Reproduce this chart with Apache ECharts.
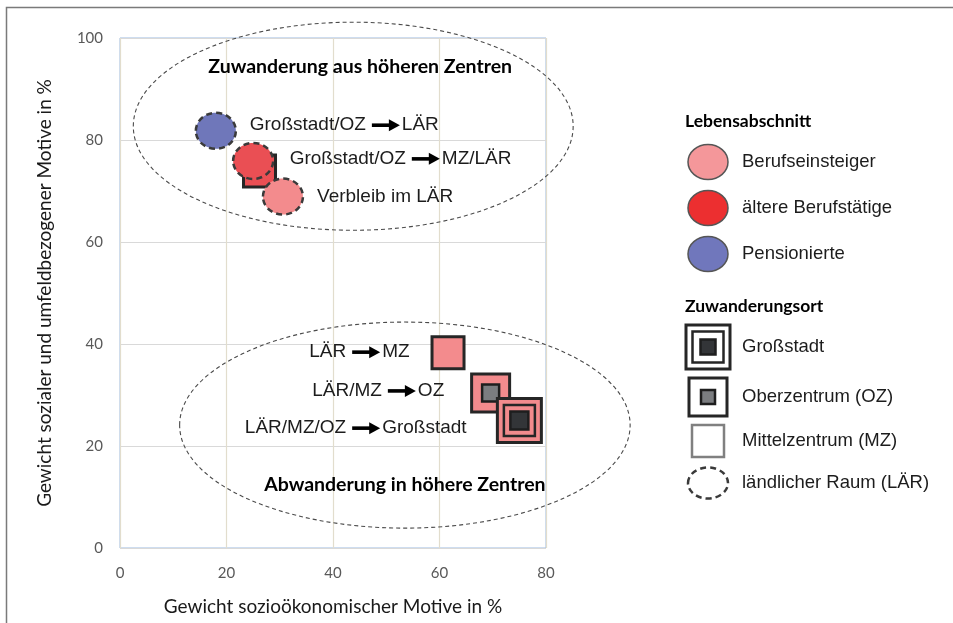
<!DOCTYPE html>
<html>
<head>
<meta charset="utf-8">
<script src="https://cdn.jsdelivr.net/npm/echarts@6/dist/echarts.min.js"></script>
<style>
  html, body { margin: 0; padding: 0; background: #fff; }
  #chart { width: 953px; height: 623px; }
</style>
</head>
<body>
<div id="chart"></div>
<script>
// ---- Data -----------------------------------------------------------------
// Life stages (colour key) and destination types (symbol key)
const lifeStages = ['Berufseinsteiger', 'ältere Berufstätige', 'Pensionierte'];
const destinations = ['Großstadt', 'Oberzentrum (OZ)', 'Mittelzentrum (MZ)', 'ländlicher Raum (LÄR)'];

// One entry per group: weight of socio-economic motives (x) and of social /
// environment-related motives (y), both in percent
const socioEconomic = [26.2, 25.0, 18.0, 30.6, 61.6, 69.6, 75.0];
const socialLocal   = [73.9, 75.9, 81.8, 68.9, 38.3, 30.4, 25.0];
const pointStage       = [1, 1, 2, 0, 0, 0, 0];   // index into lifeStages
const pointDestination = [2, 3, 3, 3, 2, 1, 0];   // index into destinations

// Axis ticks
const xTicks = [0, 20, 40, 60, 80];
const yTicks = [0, 20, 40, 60, 80, 100];

// Migration-flow annotations (text before / after the arrow)
const noteBefore = ['Großstadt/OZ', 'Großstadt/OZ', 'Verbleib im LÄR', 'LÄR', 'LÄR/MZ', 'LÄR/MZ/OZ'];
const noteAfter  = ['LÄR', 'MZ/LÄR', '', 'MZ', 'OZ', 'Großstadt'];
const clusterTitles = ['Zuwanderung aus höheren Zentren', 'Abwanderung in höhere Zentren'];

// ---- Layout (data space) ---------------------------------------------------
const noteAnchors = [[47.3, 82.9], [54.8, 76.3], [37.0, 68.8], [43.6, 38.4], [50.3, 30.8], [43.6, 23.5]];
const clusterShapes = [[43.8, 82.7, 41.3, 20.4], [53.5, 24.1, 42.3, 20.2]]; // cx, cy, rx, ry
const clusterTitleAnchors = [[45.1, 94.3], [53.5, 12.4]];

// ---- Styles -----------------------------------------------------------------
const stageColors  = ['#F38B8D', '#EA4F54', '#6F77BA'];
const legendColors = ['#F4979A', '#EC2F30', '#7077BC'];
const labelFont = '"Liberation Sans", Arial, sans-serif';
const axisFont  = 'Lato, "Open Sans", sans-serif';
const ink = '#1c1c1c';

// Symbol for a destination type, centred on (cx, cy)
function symbolShapes(dest, cx, cy, fill, legend) {
  const sq = (s, f, stroke, lw) => ({
    type: 'rect',
    shape: { x: cx - s / 2, y: cy - s / 2, width: s, height: s },
    style: { fill: f, stroke: stroke, lineWidth: lw }
  });
  if (dest === 3) {
    return [{
      type: 'ellipse',
      shape: { cx: cx, cy: cy, rx: 20, ry: legend ? 15.5 : 18 },
      style: { fill: fill, stroke: '#3a3a3a', lineWidth: 2.5, lineDash: [6, 4] }
    }];
  }
  if (dest === 2) return [sq(32, fill, legend ? '#808080' : '#262626', legend ? 2.5 : 3)];
  if (dest === 1) return [sq(38, fill, '#262626', 3), sq(legend ? 14 : 17, '#7b7d80', '#1e1e1e', 2.5)];
  return [sq(44, fill, '#262626', 3), sq(31, 'none', '#262626', 2.5), sq(legend ? 15 : 18, '#333538', '#1e1e1e', 2.5)];
}

function arrowShapes(x, y) {
  return [
    { type: 'rect', shape: { x: x, y: y - 1.8, width: 19, height: 3.6 }, style: { fill: '#000' } },
    { type: 'polygon', shape: { points: [[x + 17, y - 6], [x + 28, y], [x + 17, y + 6]] }, style: { fill: '#000' } }
  ];
}

function noteText(x, y, text, align) {
  return {
    type: 'text', x: x, y: y,
    style: { text: text, fill: ink, font: '19px ' + labelFont, align: align, verticalAlign: 'middle' }
  };
}

// ---- Legend (drawn as graphic elements) -----------------------------------
const legendEls = [];
const legendTitle = (t, y) => legendEls.push({
  type: 'text', left: 685, top: y - 11,
  style: { text: t, fill: '#000', font: 'bold 17.5px ' + axisFont }
});
const legendLabel = (t, y) => legendEls.push({
  type: 'text', x: 742, y: y,
  style: { text: t, fill: ink, font: '18.5px ' + labelFont, verticalAlign: 'middle' }
});
legendTitle('Lebensabschnitt', 123);
[162, 208, 254].forEach((y, i) => {
  legendEls.push({
    type: 'ellipse', shape: { cx: 708, cy: y, rx: 20, ry: 17.5 },
    style: { fill: legendColors[i], stroke: '#555', lineWidth: 1.5 }
  });
  legendLabel(lifeStages[i], y);
});
legendTitle('Zuwanderungsort', 308);
[347, 397, 441, 483].forEach((y, i) => {
  legendEls.push({ type: 'group', children: symbolShapes(i, 708, y, '#fff', true) });
  legendLabel(destinations[i], y);
});

// Outer frame of the figure
legendEls.push({
  type: 'rect', shape: { x: 6.5, y: 7.5, width: 980, height: 640 },
  style: { fill: 'none', stroke: '#7a7a7a', lineWidth: 1.5 }
});

// ---- Chart -----------------------------------------------------------------
const chart = echarts.init(document.getElementById('chart'));
const pointData = socioEconomic.map((x, i) => [x, socialLocal[i], pointStage[i], pointDestination[i]]);

chart.setOption({
  animation: false,
  backgroundColor: '#fff',
  grid: { left: 120, top: 38, right: 407, bottom: 75, show: true, borderColor: '#9dbbe0', borderWidth: 1 },
  xAxis: {
    type: 'value',
    min: xTicks[0], max: xTicks[xTicks.length - 1], interval: xTicks[1] - xTicks[0],
    name: 'Gewicht sozioökonomischer Motive in %',
    nameLocation: 'middle', nameGap: 49,
    nameTextStyle: { fontFamily: axisFont, fontSize: 19, color: '#1a1a1a' },
    axisLine: { show: false }, axisTick: { show: false },
    axisLabel: { margin: 18, fontFamily: axisFont, fontSize: 15, color: '#595959' },
    splitLine: { lineStyle: { color: '#e2ddcd', width: 1.2 } }
  },
  yAxis: {
    type: 'value',
    min: yTicks[0], max: yTicks[yTicks.length - 1], interval: yTicks[1] - yTicks[0],
    name: 'Gewicht sozialer und umfeldbezogener Motive in %',
    nameLocation: 'middle', nameGap: 66,
    nameTextStyle: { fontFamily: axisFont, fontSize: 19, color: '#1a1a1a' },
    axisLine: { show: false }, axisTick: { show: false },
    axisLabel: { margin: 17, fontFamily: axisFont, fontSize: 15, color: '#595959' },
    splitLine: { lineStyle: { color: '#d9d9d9', width: 1.2 } }
  },
  graphic: legendEls,
  series: [
    {
      // dashed ellipses grouping the two migration directions
      type: 'custom', clip: false, z: 1, silent: true,
      data: clusterShapes,
      renderItem: (params, api) => {
        const c = api.coord([api.value(0), api.value(1)]);
        const rx = api.size([api.value(2), 0])[0];
        const ry = api.size([0, api.value(3)])[1];
        return {
          type: 'ellipse', shape: { cx: c[0], cy: c[1], rx: rx, ry: ry },
          style: { fill: 'none', stroke: '#4a4a4a', lineWidth: 1.1, lineDash: [4, 3] }
        };
      }
    },
    {
      // groups: colour = life stage, symbol = destination type
      type: 'custom', clip: false, z: 3,
      data: pointData,
      encode: { x: 0, y: 1 },
      renderItem: (params, api) => {
        const c = api.coord([api.value(0), api.value(1)]);
        const stage = api.value(2), dest = api.value(3);
        return { type: 'group', children: symbolShapes(dest, c[0], c[1], stageColors[stage], false) };
      }
    },
    {
      // flow annotations with arrows
      type: 'custom', clip: false, z: 4, silent: true,
      data: noteAnchors.map((a, i) => [a[0], a[1], i]),
      renderItem: (params, api) => {
        const c = api.coord([api.value(0), api.value(1)]);
        const i = api.value(2);
        if (!noteAfter[i]) return noteText(c[0], c[1], noteBefore[i], 'left');
        return {
          type: 'group',
          children: [noteText(c[0] - 6, c[1], noteBefore[i], 'right')]
            .concat(arrowShapes(c[0], c[1]))
            .concat([noteText(c[0] + 30, c[1], noteAfter[i], 'left')])
        };
      }
    },
    {
      // titles of the two groupings
      type: 'custom', clip: false, z: 4, silent: true,
      data: clusterTitleAnchors.map((a, i) => [a[0], a[1], i]),
      renderItem: (params, api) => {
        const c = api.coord([api.value(0), api.value(1)]);
        return {
          type: 'text', x: c[0], y: c[1],
          style: { text: clusterTitles[api.value(2)], fill: '#000', font: 'bold 19.5px ' + axisFont, align: 'center', verticalAlign: 'middle' }
        };
      }
    }
  ]
});
</script>
</body>
</html>
